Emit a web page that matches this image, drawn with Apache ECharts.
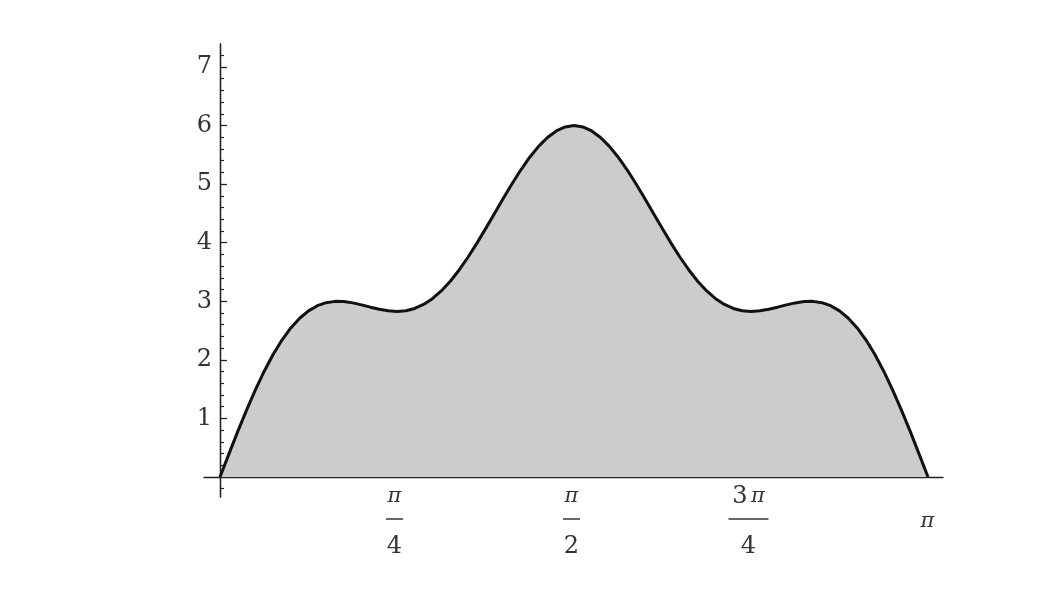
<!DOCTYPE html>
<html>
<head>
<meta charset="utf-8">
<script src="https://cdn.jsdelivr.net/npm/echarts@6/dist/echarts.min.js"></script>
<style>html,body{margin:0;padding:0;background:#fff;}#c{width:1053px;height:601px;}</style>
</head>
<body>
<div id="c"></div>
<script>
// Sample points (x in radians, y value)
const xValues = [0, 0.0393, 0.0785, 0.1178, 0.1571, 0.1963, 0.2356, 0.2749, 0.3142, 0.3534,
  0.3927, 0.4320, 0.4712, 0.5105, 0.5498, 0.5890, 0.6283, 0.6676, 0.7069, 0.7461,
  0.7854, 0.8247, 0.8639, 0.9032, 0.9425, 0.9817, 1.0210, 1.0603, 1.0996, 1.1388,
  1.1781, 1.2174, 1.2566, 1.2959, 1.3352, 1.3744, 1.4137, 1.4530, 1.4923, 1.5315,
  1.5708, 1.6101, 1.6493, 1.6886, 1.7279, 1.7671, 1.8064, 1.8457, 1.8850, 1.9242,
  1.9635, 2.0028, 2.0420, 2.0813, 2.1206, 2.1598, 2.1991, 2.2384, 2.2777, 2.3169,
  2.3562, 2.3955, 2.4347, 2.4740, 2.5133, 2.5525, 2.5918, 2.6311, 2.6704, 2.7096,
  2.7489, 2.7882, 2.8274, 2.8667, 2.9060, 2.9452, 2.9845, 3.0238, 3.0631, 3.1023, 3.1416];
const yValues = [0, 0.391, 0.775, 1.143, 1.489, 1.807, 2.091, 2.338, 2.545, 2.711,
  2.837, 2.925, 2.977, 2.999, 2.995, 2.973, 2.939, 2.900, 2.865, 2.838,
  2.828, 2.840, 2.878, 2.946, 3.045, 3.177, 3.339, 3.531, 3.748, 3.985,
  4.237, 4.496, 4.755, 5.007, 5.245, 5.460, 5.646, 5.797, 5.909, 5.977,
  6.000, 5.977, 5.909, 5.797, 5.646, 5.460, 5.245, 5.007, 4.755, 4.496,
  4.237, 3.985, 3.748, 3.531, 3.339, 3.177, 3.045, 2.946, 2.878, 2.840,
  2.828, 2.838, 2.865, 2.900, 2.939, 2.973, 2.995, 2.999, 2.977, 2.925,
  2.837, 2.711, 2.545, 2.338, 2.091, 1.807, 1.489, 1.143, 0.775, 0.391, 0];

// Axis ticks and labels
const xTickValues = [0.7854, 1.5708, 2.3562];
const xLabelValues = [0.7854, 1.5708, 2.3562, 3.1416];
const xLabelTexts = ['{n|π}\n{l| }\n{d|4}', '{n|π}\n{l| }\n{d|2}', '{u|3} {n|π}\n{w| }\n{d|4}', '{e| }\n{m|π}'];
const yMajorValues = [1, 2, 3, 4, 5, 6, 7];
const yMinorValues = [-0.2, 0.2, 0.4, 0.6, 0.8, 1.2, 1.4, 1.6, 1.8, 2.2, 2.4, 2.6, 2.8,
  3.2, 3.4, 3.6, 3.8, 4.2, 4.4, 4.6, 4.8, 5.2, 5.4, 5.6, 5.8, 6.2, 6.4, 6.6, 6.8, 7.2];

const XMIN = -0.071, XMAX = 3.2082, YMIN = -0.341, YMAX = 7.393;
const axisColor = '#222';
const serif = 'DejaVu Serif';

const chart = echarts.init(document.getElementById('c'));
const data = xValues.map((x, i) => [x, yValues[i]]);

const yAxisBase = {
  type: 'value', min: YMIN, max: YMAX, position: 'left',
  axisLine: { show: true, onZero: true, onZeroAxisIndex: 0, lineStyle: { color: axisColor, width: 1.3 } },
  splitLine: { show: false }
};

chart.setOption({
  animation: false,
  backgroundColor: '#fff',
  grid: { left: 204, width: 739, top: 44, height: 453, containLabel: false },
  xAxis: {
    type: 'value', min: XMIN, max: XMAX,
    axisLine: { show: true, onZero: true, onZeroAxisIndex: 0, lineStyle: { color: axisColor, width: 1.4 } },
    splitLine: { show: false },
    axisTick: { show: true, inside: true, length: 8, customValues: xTickValues, lineStyle: { color: axisColor, width: 1.3 } },
    axisLabel: {
      show: true, customValues: xLabelValues, margin: -12, padding: [0, 5, 0, 0],
      formatter: function (v) {
        let best = 0;
        xLabelValues.forEach((t, i) => { if (Math.abs(t - v) < Math.abs(xLabelValues[best] - v)) best = i; });
        return xLabelTexts[best];
      },
      rich: {
        n: { fontFamily: serif, fontStyle: 'italic', fontSize: 21, color: '#333', lineHeight: 24 },
        u: { fontFamily: serif, fontSize: 24, color: '#333', lineHeight: 24 },
        m: { fontFamily: serif, fontStyle: 'italic', fontSize: 21, color: '#333', lineHeight: 26, padding: [0, 0, 0, 4] },
        e: { fontSize: 10, lineHeight: 24 },
        l: { width: 17, height: 1.5, lineHeight: 20, backgroundColor: '#333' },
        w: { width: 40, height: 1.5, lineHeight: 20, backgroundColor: '#333' },
        d: { fontFamily: serif, fontSize: 24, color: '#333', lineHeight: 36 }
      }
    }
  },
  yAxis: [
    Object.assign({}, yAxisBase, {
      axisTick: { show: true, inside: true, length: 7, customValues: yMajorValues, lineStyle: { color: axisColor, width: 1.3 } },
      axisLabel: { show: true, customValues: yMajorValues, margin: -8, fontFamily: serif, fontSize: 24, color: '#333' }
    }),
    Object.assign({}, yAxisBase, {
      axisTick: { show: true, inside: true, length: 4, customValues: yMinorValues, lineStyle: { color: axisColor, width: 1.2 } },
      axisLabel: { show: false }
    })
  ],
  series: [{
    type: 'line', data: data, xAxisIndex: 0, yAxisIndex: 0,
    smooth: false, showSymbol: false, symbol: 'none',
    lineStyle: { color: '#111', width: 3, join: 'round' },
    areaStyle: { color: '#cccccc', opacity: 1 },
    z: 1
  }]
});
</script>
</body>
</html>
